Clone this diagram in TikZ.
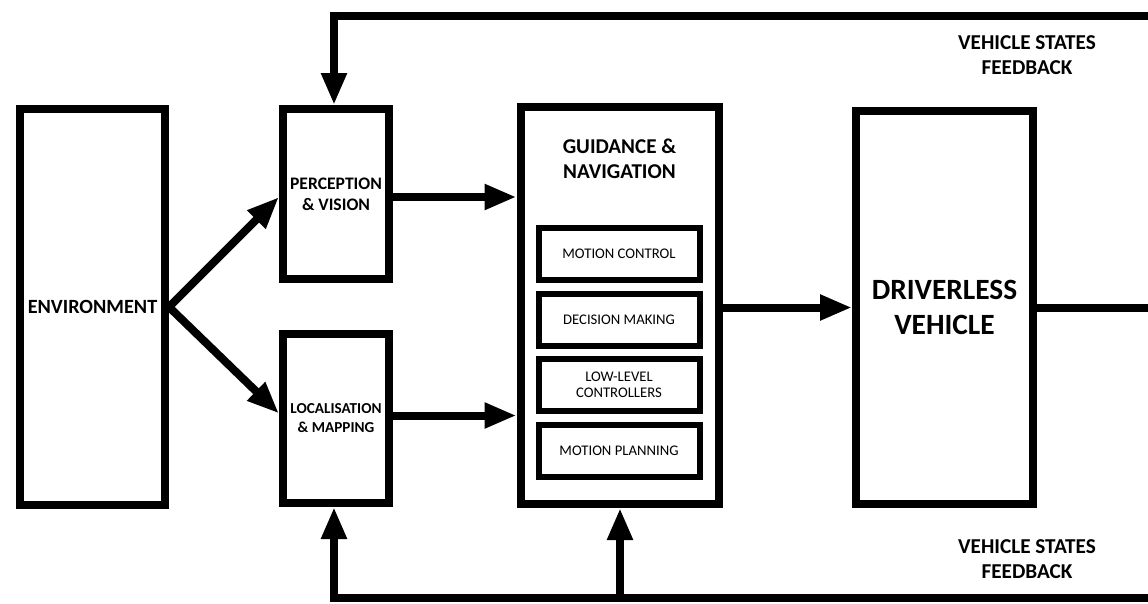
\documentclass[tikz,border=0pt]{standalone}
\usepackage{fontspec}
\setmainfont{Carlito}
\usetikzlibrary{arrows.meta}
\begin{document}
\begin{tikzpicture}[x=1pt,y=-1pt,
  bigbox/.style={draw,line width=8pt,inner sep=0pt,align=center},
  subbox/.style={draw,line width=6pt,inner sep=0pt,align=center,minimum width=161pt,minimum height=52pt,font=\fontsize{14.7}{15.5}\selectfont},
  arr/.style={line width=8pt,-{Triangle[length=32pt,width=24pt]}},
  wire/.style={line width=8pt},
  fblabel/.style={align=center,font=\bfseries\fontsize{21.2}{25}\selectfont}]
\useasboundingbox[fill=white] (0,0) rectangle (1148,603);
% boxes
\node[bigbox,minimum width=145pt,minimum height=396pt,font=\bfseries\fontsize{20.2}{22}\selectfont] (env) at (92.5,307) {ENVIRONMENT};
\node[bigbox,minimum width=106pt,minimum height=170pt,font=\bfseries\fontsize{17.6}{21}\selectfont] (perc) at (336,194) {PERCEPTION\\\& VISION};
\node[bigbox,minimum width=106pt,minimum height=169pt,font=\bfseries\fontsize{15.2}{19}\selectfont] (loc) at (336,418.5) {LOCALISATION\\\& MAPPING};
\node[bigbox,minimum width=198pt,minimum height=397pt] (guid) at (619.5,305.5) {};
\node[font=\bfseries\fontsize{21.1}{25}\selectfont,align=center] (guidlab) at (619.5,159) {GUIDANCE \&\\NAVIGATION};
\node[subbox] (mc) at (619,254) {MOTION CONTROL};
\node[subbox] (dm) at (619,320) {DECISION MAKING};
\node[subbox] (ll) at (619,385) {LOW-LEVEL\\CONTROLLERS};
\node[subbox] (mp) at (619,451) {MOTION PLANNING};
\node[bigbox,minimum width=177pt,minimum height=393pt,font=\bfseries\fontsize{29.4}{35}\selectfont] (driv) at (944.5,307.5) {DRIVERLESS\\VEHICLE};
% labels
\node[fblabel] (fbtop) at (1027,55) {VEHICLE STATES\\FEEDBACK};
\node[fblabel] (fbbot) at (1027,559) {VEHICLE STATES\\FEEDBACK};
% coordinates
\coordinate (tr) at (1156,16);
\coordinate (tl) at (334,16);
\coordinate (br) at (1156,598);
\coordinate (bl) at (334,598);
\coordinate (bm) at (620,598);
\coordinate (re) at (1156,308);
% connectors
\draw[arr] (env.east) -- ([yshift=-3pt]perc.west);
\draw[arr] (env.east) -- ([yshift=5pt]loc.west);
\draw[arr] ([yshift=-3pt]perc.east) -- ([yshift=-3pt]perc.east -| guid.west);
\draw[arr] ([yshift=3pt]loc.east) -- ([yshift=3pt]loc.east -| guid.west);
\draw[arr] (driv.west -| guid.east) -- (driv.west);
\draw[wire] (driv.east) -- (driv.east -| re);
\draw[arr] (tr) -- (tl) -- (tl |- perc.north);
\draw[arr] (br) -- (bl) -- (bl |- loc.south);
\draw[arr] (bm) -- (bm |- guid.south);
\end{tikzpicture}
\end{document}
